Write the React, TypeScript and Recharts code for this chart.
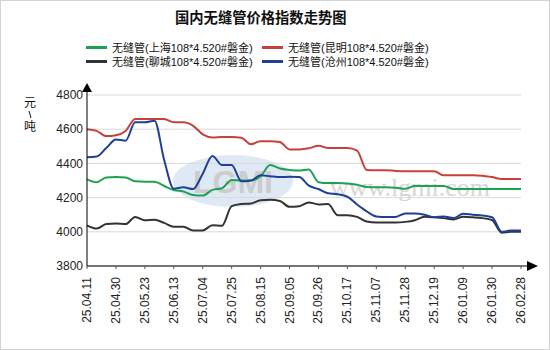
import { LineChart, Line, XAxis, YAxis, CartesianGrid } from 'recharts';

const dates = [
  '25.04.11', '25.04.18', '25.04.25', '25.04.30', '25.05.09', '25.05.16', '25.05.23', '25.05.30',
  '25.06.06', '25.06.13', '25.06.20', '25.06.27', '25.07.04', '25.07.11', '25.07.18', '25.07.25',
  '25.08.01', '25.08.08', '25.08.15', '25.08.22', '25.08.29', '25.09.05', '25.09.12', '25.09.19',
  '25.09.26', '25.09.30', '25.10.10', '25.10.17', '25.10.24', '25.10.31', '25.11.07', '25.11.14',
  '25.11.21', '25.11.28', '25.12.05', '25.12.12', '25.12.19', '25.12.26', '25.12.31', '26.01.09',
  '26.01.16', '26.01.23', '26.01.30', '26.02.06', '26.02.13', '26.02.28',
];

// 上海
const shanghai = [
  4307, 4290, 4318, 4320, 4318, 4295, 4293, 4293, 4268, 4244, 4236, 4215, 4212, 4245, 4255, 4303,
  4300, 4300, 4325, 4390, 4370, 4362, 4358, 4365, 4290, 4285, 4285, 4283, 4275, 4262, 4260, 4260,
  4258, 4252, 4268, 4268, 4268, 4268, 4250, 4250, 4250, 4250, 4250, 4250, 4250, 4250,
];
// 昆明
const kunming = [
  4600, 4590, 4560, 4565, 4590, 4660, 4660, 4660, 4660, 4640, 4640, 4620, 4570, 4552, 4555, 4555,
  4550, 4512, 4530, 4530, 4525, 4482, 4482, 4488, 4503, 4490, 4490, 4490, 4475, 4362, 4360, 4360,
  4356, 4354, 4354, 4354, 4354, 4330, 4330, 4330, 4330, 4328, 4320, 4309, 4309, 4309,
];
// 聊城
const liaocheng = [
  4038, 4019, 4045, 4048, 4045, 4087, 4068, 4070, 4052, 4030, 4030, 4008, 4008, 4038, 4035, 4150,
  4162, 4165, 4185, 4187, 4180, 4146, 4150, 4172, 4160, 4162, 4097, 4097, 4087, 4060, 4054, 4054,
  4054, 4058, 4068, 4088, 4085, 4080, 4072, 4088, 4085, 4080, 4068, 3995, 4000, 4000,
];
// 沧州
const cangzhou = [
  4436, 4440, 4490, 4540, 4533, 4640, 4640, 4650, 4420, 4252, 4260, 4250, 4340, 4444, 4390, 4390,
  4295, 4300, 4330, 4325, 4320, 4322, 4320, 4270, 4250, 4225, 4220, 4205, 4160, 4120, 4090, 4087,
  4087, 4107, 4107, 4100, 4085, 4090, 4080, 4105, 4100, 4095, 4085, 4000, 4008, 4008,
];

const yTicks = [3800, 4000, 4200, 4400, 4600, 4800];

const series = [
  { key: 'sh', name: '无缝管(上海108*4.520#磐金)', color: '#1fa153' },
  { key: 'km', name: '无缝管(昆明108*4.520#磐金)', color: '#c8403a' },
  { key: 'lc', name: '无缝管(聊城108*4.520#磐金)', color: '#333333' },
  { key: 'cz', name: '无缝管(沧州108*4.520#磐金)', color: '#1f4099' },
];

const data = dates.map((date, i) => ({
  date,
  sh: shanghai[i],
  km: kunming[i],
  lc: liaocheng[i],
  cz: cangzhou[i],
}));

const FONT = "'Liberation Sans', Arial, 'Noto Sans CJK SC', sans-serif";
const CJK = "'Noto Sans CJK SC', sans-serif";

function XTick(props: any) {
  const { x, y, payload } = props;
  return (
    <text
      x={x}
      y={y + 6}
      transform={`rotate(-90 ${x} ${y + 6})`}
      textAnchor="end"
      dy={4}
      fontSize={12}
      fontFamily={FONT}
      fill="#222"
    >
      {payload.value}
    </text>
  );
}

function LegendBox() {
  return (
    <div
      style={{
        position: 'absolute',
        left: 86,
        top: 40,
        display: 'grid',
        gridTemplateColumns: '176px 176px',
        fontFamily: FONT,
        fontSize: 11,
        color: '#111',
      }}
    >
      {series.map((s) => (
        <div key={s.key} style={{ display: 'flex', alignItems: 'center', height: 14, whiteSpace: 'nowrap' }}>
          <span style={{ display: 'inline-block', width: 21, height: 3, background: s.color, marginRight: 5 }} />
          <span>{s.name}</span>
        </div>
      ))}
    </div>
  );
}

export default function App() {
  return (
    <div style={{ position: 'fixed', left: 0, top: 0, width: 550, height: 350, background: '#fff' }}>
      {/* watermark */}
      <svg width={550} height={350} style={{ position: 'absolute', left: 0, top: 0 }}>
        <ellipse cx={233} cy={181} rx={60} ry={26} fill="#dfe9f5" />
        <text x={233} y={193} textAnchor="middle" fontSize={32} fontWeight="bold" fontFamily={FONT} fill="#cccccc">
          LGMI
        </text>
        <text x={410} y={196} textAnchor="middle" fontSize={26} fontFamily="'Liberation Serif', serif" fill="#d6d6d6">
          www.lgmi.com
        </text>
      </svg>

      <div
        style={{
          position: 'absolute',
          left: 175,
          top: 6,
          width: 170,
          textAlign: 'center',
          whiteSpace: 'nowrap',
          fontFamily: CJK,
          fontWeight: 'bold',
          fontSize: 14.3,
          color: '#111',
        }}
      >
        国内无缝管价格指数走势图
      </div>

      <LegendBox />

      <div style={{ position: 'absolute', left: 0, top: 0 }}>
        <LineChart width={550} height={350} data={data} margin={{ top: 95, right: 29, bottom: 24, left: 27 }}>
          <CartesianGrid vertical={false} stroke="#d9d9d9" />
          <XAxis
            dataKey="date"
            interval={2}
            tickSize={3}
            tickLine={{ stroke: '#555' }}
            axisLine={{ stroke: '#000' }}
            tick={<XTick />}
            height={60}
          />
          <YAxis
            domain={[3800, 4800]}
            ticks={yTicks}
            tickLine={false}
            tickSize={0}
            tickMargin={4}
            axisLine={{ stroke: '#000' }}
            width={60}
            tick={{ fontSize: 12, fill: '#222', fontFamily: FONT }}
          />
          {series.map((s) => (
            <Line
              key={s.key}
              type="monotone"
              dataKey={s.key}
              name={s.name}
              stroke={s.color}
              strokeWidth={2}
              dot={false}
              isAnimationActive={false}
            />
          ))}
        </LineChart>
      </div>

      {/* axis arrows and unit label */}
      <svg width={550} height={350} style={{ position: 'absolute', left: 0, top: 0, pointerEvents: 'none' }}>
        <line x1={87} y1={95} x2={87} y2={90} stroke="#000" />
        <polygon points="82,92 87,83 92,92" fill="#000" />
        <line x1={521} y1={266} x2={528} y2={266} stroke="#000" />
        <polygon points="527,261 538,266 527,271" fill="#000" />
        <text x={30} y={107} textAnchor="middle" fontSize={12} fontFamily={CJK} fill="#111">
          元
        </text>
        <line x1={29} y1={111} x2={31} y2={118} stroke="#111" strokeWidth={1} />
        <text x={30} y={131} textAnchor="middle" fontSize={12} fontFamily={CJK} fill="#111">
          吨
        </text>
      </svg>

      <div
        style={{
          position: 'absolute',
          left: 0,
          top: 0,
          width: 550,
          height: 350,
          boxSizing: 'border-box',
          border: '1px solid #d4d4d4',
          pointerEvents: 'none',
        }}
      />
    </div>
  );
}
